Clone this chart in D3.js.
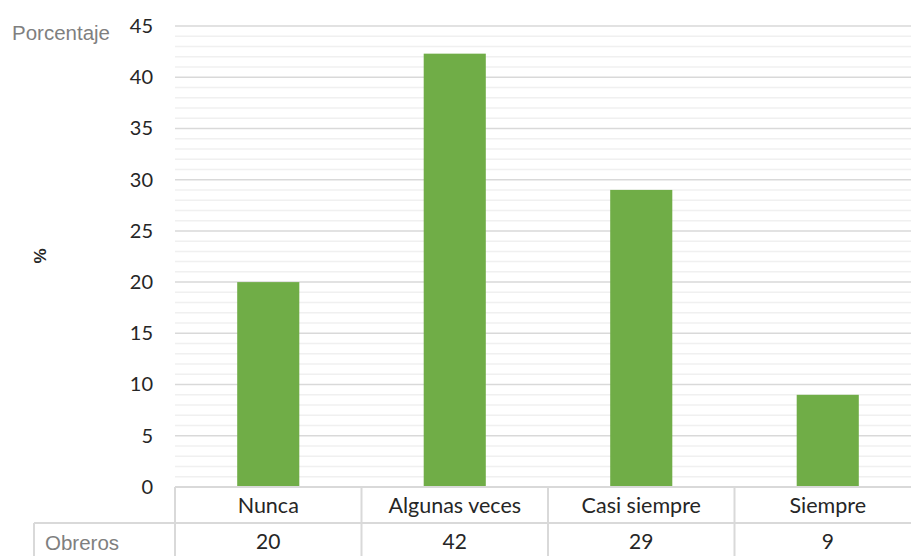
<!DOCTYPE html>
<html>
<head>
<meta charset="utf-8">
<script src="https://cdn.jsdelivr.net/npm/d3@7/dist/d3.min.js"></script>
<style>
  html, body { margin: 0; padding: 0; background: #fff; }
  svg { display: block; }
</style>
</head>
<body>
<svg id="chart" width="911" height="556"></svg>
<script>
// ---- data ----
const categories = ["Nunca", "Algunas veces", "Casi siempre", "Siempre"];
const values = [20, 42.3, 29, 9];
const yTicks = [0, 5, 10, 15, 20, 25, 30, 35, 40, 45];
const seriesName = "Obreros";
const yTitle = "%";
const cornerLabel = "Porcentaje";

// ---- layout ----
const svg = d3.select("#chart");
const plotLeft = 175, plotRight = 921, plotTop = 26, zeroY = 487;
const row1H = 36, row2H = 36;
const tableLeft = 34;

const y = d3.scaleLinear().domain([0, 45]).range([zeroY, plotTop]);
const xCell = d3.scaleBand().domain(categories).range([plotLeft, plotRight]).padding(0);
const xBar = d3.scaleBand().domain(categories).range([plotLeft, plotRight])
  .paddingInner(0.667).paddingOuter(0.3335);

const tickFont = "Lato, 'Open Sans', sans-serif";
const textColor = "#262626";

// minor gridlines
const minor = d3.range(1, 46).filter(v => v % 5 !== 0);
svg.append("g").selectAll("line").data(minor).join("line")
  .attr("x1", plotLeft).attr("x2", 911)
  .attr("y1", d => y(d)).attr("y2", d => y(d))
  .attr("stroke", "#f0f0f0").attr("stroke-width", 1.5);

// major gridlines
svg.append("g").selectAll("line").data(yTicks.filter(v => v > 0)).join("line")
  .attr("x1", plotLeft).attr("x2", 911)
  .attr("y1", d => y(d)).attr("y2", d => y(d))
  .attr("stroke", "#d9d9d9").attr("stroke-width", 1.5);

// bars
svg.append("g").selectAll("rect").data(values).join("rect")
  .attr("x", (d, i) => xBar(categories[i]))
  .attr("width", xBar.bandwidth())
  .attr("y", d => y(d))
  .attr("height", d => y(0) - y(d))
  .attr("fill", "#70AD47");

// y axis
const yAxis = d3.axisLeft(y).tickValues(yTicks).tickSize(0).tickPadding(22);
const gy = svg.append("g").attr("transform", `translate(${plotLeft},0)`).call(yAxis);
gy.select(".domain").remove();
gy.selectAll("text")
  .attr("font-family", tickFont).attr("font-size", 20)
  .attr("fill", textColor);

// table lines
const tl = svg.append("g").attr("stroke", "#d9d9d9").attr("stroke-width", 2).attr("fill", "none");
tl.append("line").attr("x1", plotLeft).attr("x2", 911).attr("y1", zeroY).attr("y2", zeroY);
tl.append("line").attr("x1", tableLeft).attr("x2", 911).attr("y1", zeroY + row1H).attr("y2", zeroY + row1H);
tl.append("line").attr("x1", tableLeft).attr("x2", tableLeft).attr("y1", zeroY + row1H).attr("y2", 560);
const bounds = categories.map(c => xCell(c));
tl.selectAll(".v").data(bounds).join("line")
  .attr("x1", d => d).attr("x2", d => d)
  .attr("y1", zeroY).attr("y2", 560);

// category labels
svg.append("g").selectAll("text").data(categories).join("text")
  .attr("x", d => xCell(d) + xCell.bandwidth() / 2)
  .attr("y", zeroY + row1H / 2)
  .attr("dy", "0.35em")
  .attr("text-anchor", "middle")
  .attr("font-family", tickFont).attr("font-size", 21.5)
  .attr("fill", textColor)
  .text(d => d);

// value row
svg.append("g").selectAll("text").data(values).join("text")
  .attr("x", (d, i) => xCell(categories[i]) + xCell.bandwidth() / 2)
  .attr("y", zeroY + row1H + row2H / 2 + 1)
  .attr("dy", "0.35em")
  .attr("text-anchor", "middle")
  .attr("font-family", tickFont).attr("font-size", 21)
  .attr("fill", textColor)
  .text(d => d3.format(".0f")(d));

// series name
svg.append("text")
  .attr("x", 45).attr("y", 550)
  .attr("font-family", "'Liberation Sans', Arial, sans-serif").attr("font-size", 20.5)
  .attr("fill", "#7f7f7f")
  .text(seriesName);

// corner label
svg.append("text")
  .attr("x", 12).attr("y", 40)
  .attr("font-family", "'Liberation Sans', Arial, sans-serif").attr("font-size", 20.5)
  .attr("fill", "#7f7f7f")
  .text(cornerLabel);

// y title
svg.append("text")
  .attr("transform", "translate(46,256) rotate(-90)")
  .attr("text-anchor", "middle")
  .attr("font-family", "'Liberation Sans', Arial, sans-serif").attr("font-size", 17)
  .attr("font-weight", "bold")
  .attr("fill", textColor)
  .text(yTitle);
</script>
</body>
</html>
